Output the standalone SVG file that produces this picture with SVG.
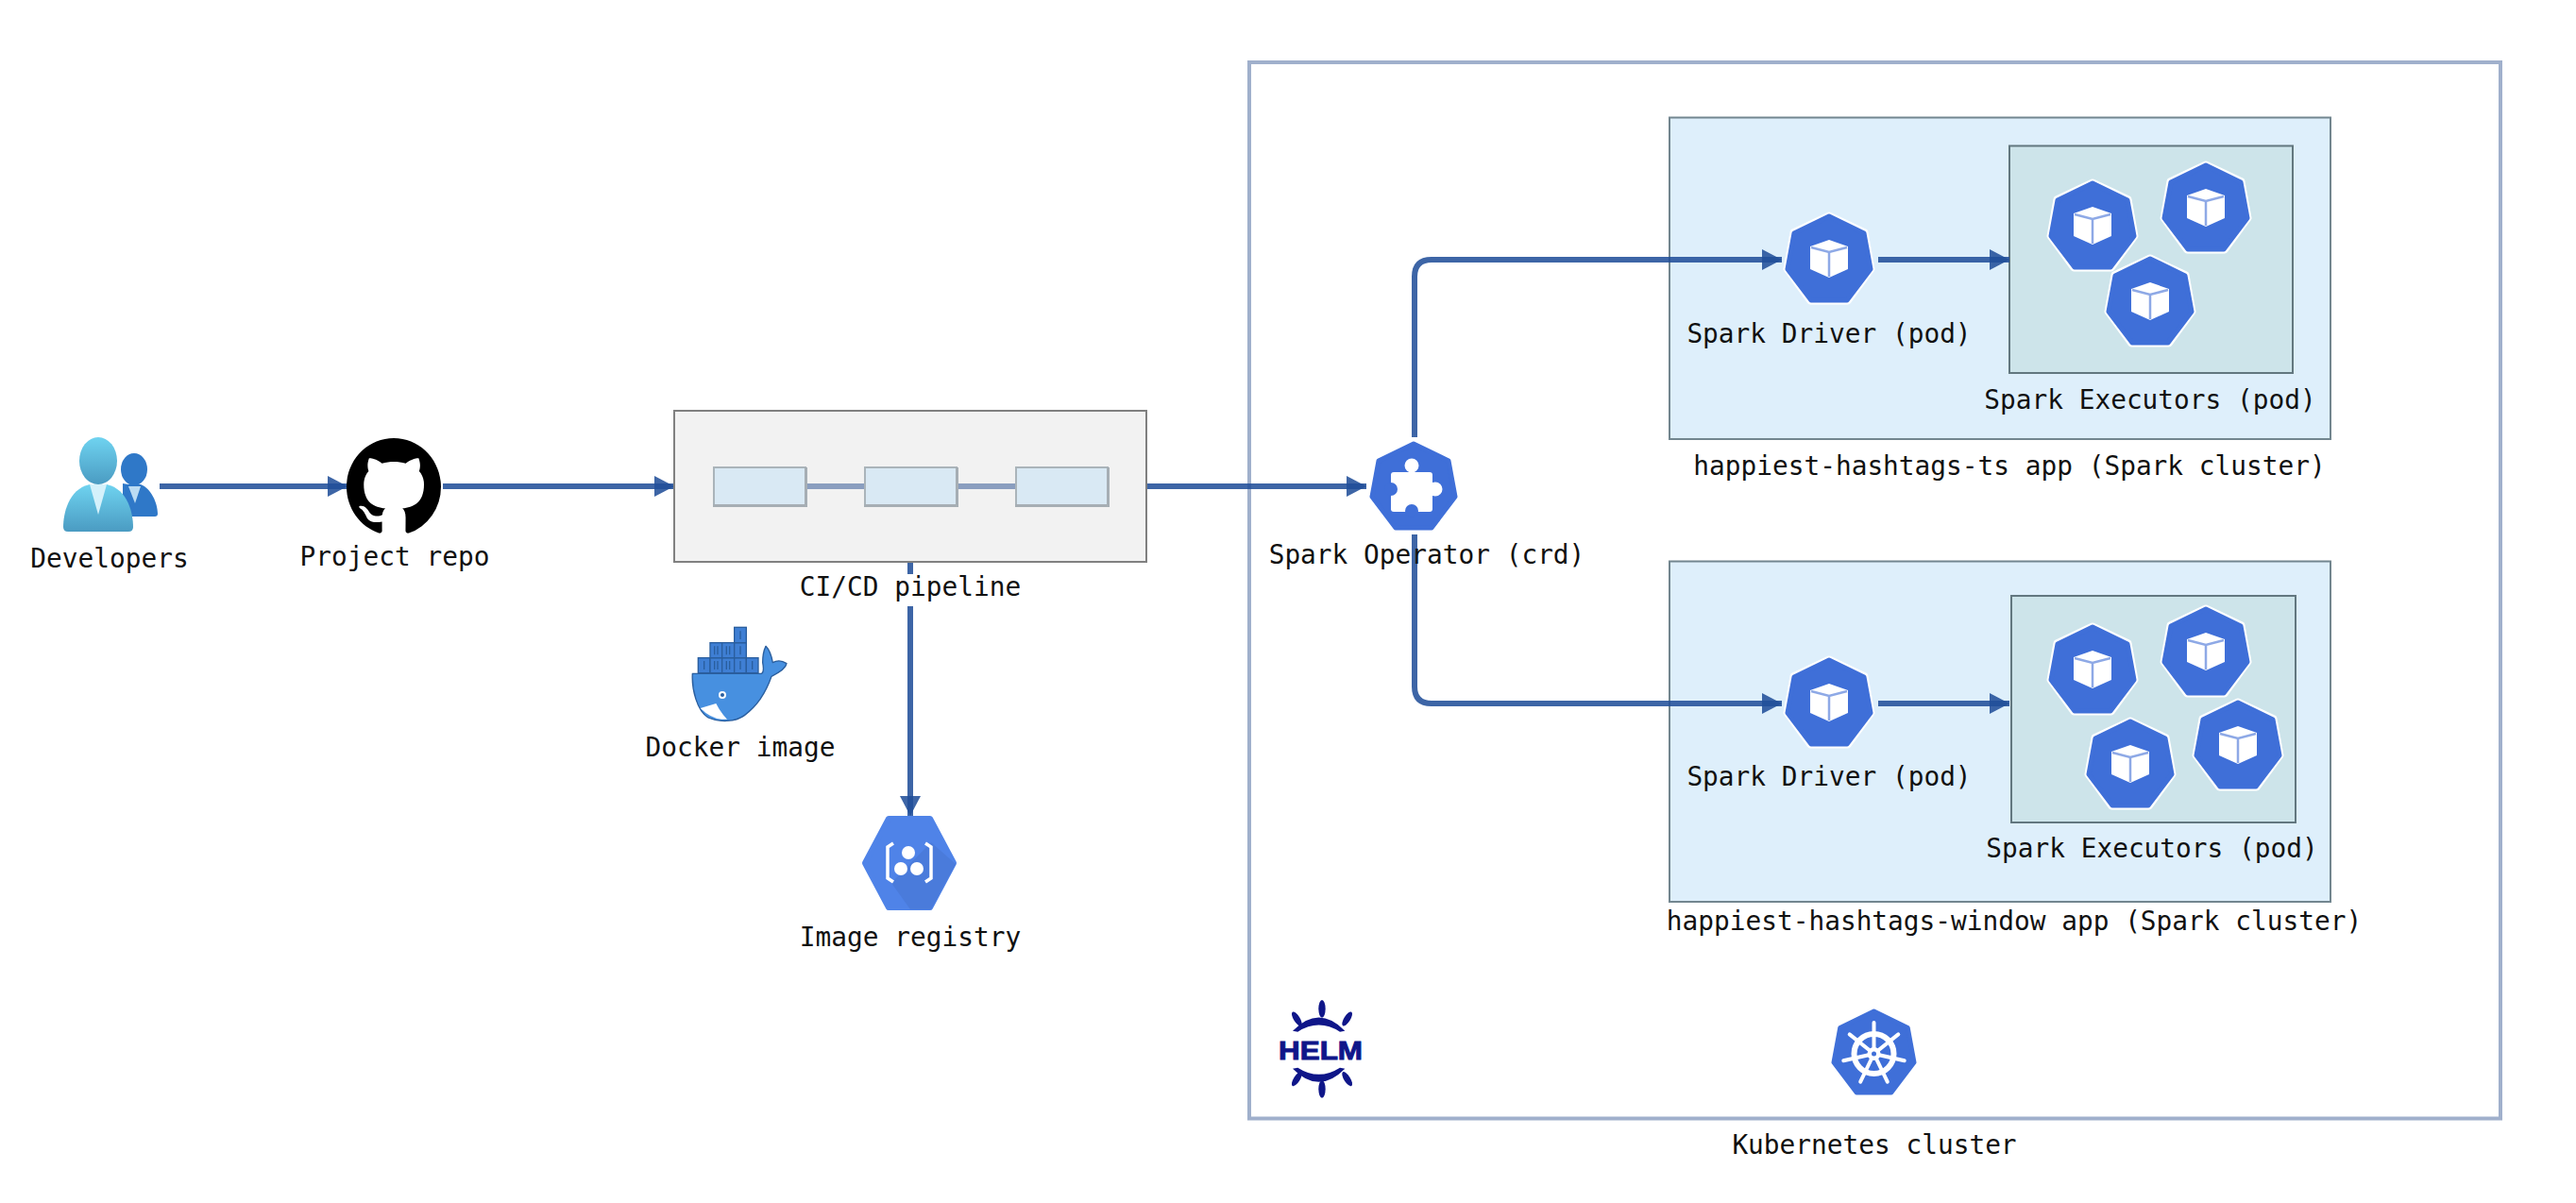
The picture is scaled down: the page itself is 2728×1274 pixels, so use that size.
<svg xmlns="http://www.w3.org/2000/svg" xmlns:xlink="http://www.w3.org/1999/xlink" width="2728" height="1274" viewBox="0 0 2728 1274">
<style>
text.l{font-family:"DejaVu Sans Mono","Liberation Mono",monospace;font-size:27.8px;fill:#111;text-anchor:middle}
.conn{fill:none;stroke:#204e99;stroke-opacity:.87;stroke-width:6;marker-end:url(#head)}
.outer{fill:#deeffb;stroke:#72868f;stroke-width:2}
.inner{fill:#cde4ea;stroke:#62777f;stroke-width:2}
.step{fill:#d9e9f4;stroke:#aab4ba;stroke-width:2}
.stepshadow{fill:#a6aeb4}
.stepline{fill:#8a9ebf}
.helm{fill:#0f1689}
</style>
<defs>
<marker id="head" markerUnits="userSpaceOnUse" viewBox="0 0 21 22" refX="21" refY="11" markerWidth="21" markerHeight="22" orient="auto">
<polygon points="0,0 21,11 0,22" fill="#204e99" fill-opacity=".87"/>
</marker>
<linearGradient id="bigp" x1="0" y1="0" x2="0" y2="1"><stop offset="0" stop-color="#6fd3f0"/><stop offset="1" stop-color="#4a9bc2"/></linearGradient>
<g id="hept">
<polygon points="47,2 85,20 92,59 67,93 27,93 2,59 9,20" fill="#fff" stroke="#fff" stroke-width="7" stroke-linejoin="round"/>
<polygon points="47,3 84,21 91,59 66,92 28,92 3,59 10,21" fill="#3f6fd8" stroke="#3f6fd8" stroke-width="5" stroke-linejoin="round"/>
</g>
<g id="pod">
<use xlink:href="#hept"/>
<polygon points="47,28 67,35 67,59 47,68 27,59 27,35" fill="#fff"/>
<path d="M28,36 L47,41 L66,36 M47,41 V67" fill="none" stroke="#8ea9e6" stroke-width="2.500"/>
</g>
</defs>
<rect width="2728" height="1274" fill="#fff"/>

<g id="kubernetes-frame"><rect x="1323" y="66" width="1325" height="1118.500" fill="#fff" stroke="#a0b0cc" stroke-width="4"/></g>
<g id="cluster-ts">
<rect class="outer" x="1768" y="124.500" width="700" height="340.500"/>
<rect class="inner" x="2128" y="154.500" width="300" height="240.500"/>
</g>
<g id="cluster-window">
<rect class="outer" x="1768" y="594.500" width="700" height="360.500"/>
<rect class="inner" x="2130" y="631" width="301" height="240"/>
</g>

<g id="connectors">
<path class="conn" d="M169,515H368"/>
<path class="conn" d="M469,515H714"/>
<path class="conn" d="M1215,515H1447"/>
<path class="conn" d="M964,595V864"/>
<path class="conn" d="M1498,463V293Q1498,275 1516,275H1887"/>
<path class="conn" d="M1498,566V727Q1498,745 1516,745H1887"/>
<path class="conn" d="M1989,275H2128"/>
<path class="conn" d="M1989,745H2128"/>
</g>

<g id="developers">
<path d="M130,512L136,513H149C160,517 167,533 167,544Q167,547 164,547H130Z" fill="#2f78c8"/>
<ellipse cx="142" cy="497" rx="14" ry="17" fill="#2f78c8"/>
<polygon points="136,515 149,515 143,533" fill="#bcdcf3"/>
<path d="M95,513 C72,518 67,545 67,558 Q67,563 72,563 H136 Q141,563 141,558 C141,545 136,518 113,513Z" fill="url(#bigp)"/>
<ellipse cx="104" cy="488" rx="20" ry="25" fill="url(#bigp)"/>
<polygon points="95,513 113,513 104,545" fill="#d4f1fb"/>
<text class="l" x="116" y="601">Developers</text>
</g>

<g id="project-repo">
<path transform="translate(367,464) scale(6.25,6.45)" fill="#000" d="M8 0C3.58 0 0 3.58 0 8c0 3.54 2.29 6.53 5.47 7.59.4.07.55-.17.55-.38 0-.19-.01-.82-.01-1.49-2.01.37-2.53-.49-2.69-.94-.09-.23-.48-.94-.82-1.13-.28-.15-.68-.52-.01-.53.63-.01 1.08.58 1.23.82.72 1.21 1.87.87 2.33.66.07-.52.28-.87.51-1.07-1.78-.2-3.64-.89-3.64-3.95 0-.87.31-1.59.82-2.15-.08-.2-.36-1.02.08-2.12 0 0 .67-.21 2.2.82.64-.18 1.32-.27 2-.27.68 0 1.36.09 2 .27 1.53-1.04 2.2-.82 2.2-.82.44 1.1.16 1.92.08 2.12.51.56.82 1.27.82 2.15 0 3.07-1.87 3.75-3.65 3.95.29.25.54.73.54 1.48 0 1.07-.01 1.93-.01 2.2 0 .21.15.46.55.38A8.013 8.013 0 0016 8c0-4.42-3.58-8-8-8z"/>
<text class="l" x="418" y="599">Project repo</text>
</g>

<g id="ci-cd-pipeline">
<rect x="714" y="435" width="500" height="160" fill="#f2f2f2" stroke="#808080" stroke-width="2"/>
<rect class="stepline" x="853" y="512" width="63" height="6"/>
<rect class="stepline" x="1013" y="512" width="63" height="6"/>
<rect class="step" x="756" y="495" width="97" height="41"/>
<rect class="step" x="916" y="495" width="97" height="41"/>
<rect class="step" x="1076" y="495" width="97" height="41"/>
<path class="stepshadow" d="M755,534h100v3h-100zM852,495h3v40h-3zM915,534h100v3h-100zM1012,495h3v40h-3zM1075,534h100v3h-100zM1172,495h3v40h-3z"/>
<rect x="846" y="608" width="236" height="34" fill="#fff"/>
<text class="l" x="964" y="631">CI/CD pipeline</text>
</g>

<g id="docker-image">
<g transform="translate(725,655) scale(.3333)">
<g fill="#3f7fd4" stroke="#2a5e9e" stroke-width="4">
<rect x="43" y="125" width="38" height="48"/><rect x="81" y="125" width="38" height="48"/><rect x="119" y="125" width="39" height="48"/><rect x="158" y="125" width="38" height="48"/><rect x="196" y="125" width="38" height="48"/>
<rect x="81" y="77" width="38" height="48"/><rect x="119" y="77" width="39" height="48"/><rect x="158" y="77" width="38" height="48"/>
<rect x="158" y="28" width="38" height="49"/>
</g>
<path d="M62,135V162M95,135V162M105,135V162M133,135V162M143,135V162M177,135V162M215,135V162M95,88V115M105,88V115M133,88V115M143,88V115M177,88V115M177,40V66" stroke="#2a5e9e" stroke-width="4" fill="none"/>
<path d="M25,175H245C252,170 250,150 248,140C248,120 252,100 258,88C268,98 276,118 280,140C295,132 312,135 324,143C322,158 300,172 276,184C262,225 235,275 190,308C160,330 110,330 75,315C40,295 22,225 25,175Z" fill="#4790e0" stroke="#2a5e9e" stroke-width="4" stroke-linejoin="round"/>
<path d="M50,285L100,270Q115,300 135,320Q90,325 50,285Z" fill="#fff"/>
<circle cx="120" cy="243" r="12" fill="#fff"/>
<circle cx="120" cy="243" r="6" fill="#2a5e9e"/>
</g>
<text class="l" x="784" y="801">Docker image</text>
</g>

<g id="image-registry">
<polygon points="941,867 985,867 1010,914 985,961 941,961 916,914" fill="#4f83e8" stroke="#4f83e8" stroke-width="6" stroke-linejoin="round"/>
<polygon points="986,892 1012,915 986,963 964,963 944,935" fill="#4a7bdb"/>
<g fill="#fff"><circle cx="962" cy="903" r="7"/><circle cx="954" cy="920" r="7"/><circle cx="971" cy="920" r="7"/></g>
<path d="M946,893L940,897V930L946,934M980,893L986,897V930L980,934" fill="none" stroke="#fff" stroke-width="3.500"/>
<text class="l" x="964" y="1002">Image registry</text>
</g>

<g id="spark-operator">
<use xlink:href="#hept" x="1450" y="467"/>
<rect x="1473" y="500" width="44" height="42" rx="3" fill="#fff"/>
<circle cx="1495" cy="493" r="7.500" fill="#fff"/>
<circle cx="1520" cy="518" r="7.500" fill="#fff"/>
<circle cx="1473" cy="518" r="7" fill="#3f6fd8"/>
<circle cx="1495" cy="541" r="7" fill="#3f6fd8"/>
<text class="l" x="1511" y="597">Spark Operator (crd)</text>
</g>

<g id="driver-ts"><use xlink:href="#pod" x="1890" y="226"/><text class="l" x="1937" y="363">Spark Driver (pod)</text></g>
<g id="executors-ts">
<use xlink:href="#pod" x="2169" y="191"/><use xlink:href="#pod" x="2289" y="172"/><use xlink:href="#pod" x="2230" y="271"/>
<text class="l" x="2277" y="433">Spark Executors (pod)</text>
</g>
<g id="label-ts"><text class="l" x="2128" y="503">happiest-hashtags-ts app (Spark cluster)</text></g>

<g id="driver-window"><use xlink:href="#pod" x="1890" y="696"/><text class="l" x="1937" y="832">Spark Driver (pod)</text></g>
<g id="executors-window">
<use xlink:href="#pod" x="2169" y="661"/><use xlink:href="#pod" x="2289" y="642"/><use xlink:href="#pod" x="2209" y="761"/><use xlink:href="#pod" x="2323" y="741"/>
<text class="l" x="2279" y="908">Spark Executors (pod)</text>
</g>
<g id="label-window"><text class="l" x="2133" y="985">happiest-hashtags-window app (Spark cluster)</text></g>

<g id="helm">
<g transform="translate(1345,1050) scale(.3333)" class="helm">
<ellipse cx="165" cy="55" rx="11" ry="28"/>
<ellipse cx="85" cy="87" rx="10" ry="26" transform="rotate(-32 85 87)"/>
<ellipse cx="245" cy="87" rx="10" ry="26" transform="rotate(32 245 87)"/>
<path d="M72,125Q155,40 238,125L222,128Q155,85 88,128Z"/>
<ellipse cx="165" cy="310" rx="11" ry="28"/>
<ellipse cx="85" cy="278" rx="10" ry="26" transform="rotate(32 85 278)"/>
<ellipse cx="245" cy="278" rx="10" ry="26" transform="rotate(-32 245 278)"/>
<path d="M72,245Q155,330 238,245L222,242Q155,285 88,242Z"/>
</g>
<text x="1354" y="1122" textLength="89" lengthAdjust="spacingAndGlyphs" class="helm" stroke="#0f1689" stroke-width="1" style="font-family:'Liberation Sans',sans-serif;font-weight:700;font-size:28px">HELM</text>
</g>

<g id="kubernetes-cluster">
<g transform="translate(1939,1068) scale(.968,.968)"><use xlink:href="#hept"/></g>
<g fill="none" stroke="#fff" stroke-linecap="round">
<circle cx="1984.500" cy="1116" r="21" stroke-width="6"/>
<g stroke-width="4">
<path d="M1984.500,1116V1083M1984.500,1116L2010.300,1095.400M1984.500,1116L2016.700,1123.300M1984.500,1116L1998.800,1145.700M1984.500,1116L1970.200,1145.700M1984.500,1116L1952.300,1123.300M1984.500,1116L1958.700,1095.400"/>
</g>
</g>
<circle cx="1984.500" cy="1116" r="7" fill="#fff"/>
<circle cx="1984.500" cy="1116" r="2.500" fill="#3f6fd8"/>
<text class="l" x="1985" y="1222">Kubernetes cluster</text>
</g>
</svg>
